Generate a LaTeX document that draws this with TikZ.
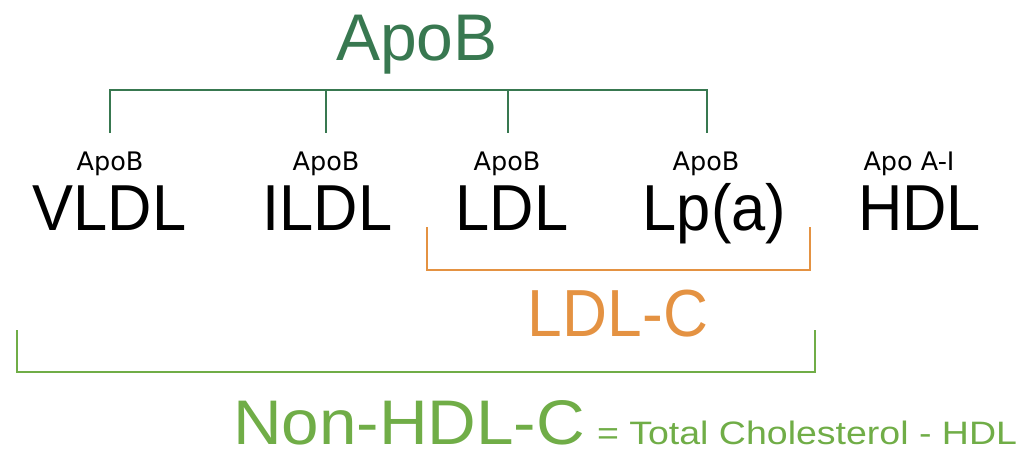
\documentclass[tikz,border=0pt]{standalone}
\usepackage{fontspec}
\usepackage{graphicx}
\setmainfont{Liberation Sans}
\newfontfamily\dejavu{DejaVu Sans}
\definecolor{apogreen}{RGB}{56,120,80}
\definecolor{ldlorange}{RGB}{228,146,66}
\definecolor{nhgreen}{RGB}{112,173,71}
\tikzset{
  lbl/.style={anchor=base,inner sep=0pt,outer sep=0pt},
  small/.style={lbl,font=\dejavu\fontsize{25.5}{27}\selectfont},
  big/.style={lbl,font=\fontsize{65}{70}\selectfont},
  treeline/.style={draw=apogreen,line width=1.6pt},
  ldlline/.style={draw=ldlorange,line width=1.6pt},
  nhline/.style={draw=nhgreen,line width=1.6pt}
}
\begin{document}
\begin{tikzpicture}[x=1pt,y=-1pt]
\useasboundingbox (0,0) rectangle (1024,452);
% top label
\node[lbl,text=apogreen,font=\fontsize{66}{70}\selectfont] (top) at (417,60) {ApoB};
% small labels
\node[small] (s1) at (110,170) {ApoB};
\node[small] (s2) at (326,170) {ApoB};
\node[small] (s3) at (507,170) {ApoB};
\node[small] (s4) at (706,170) {ApoB};
\node[small] (s5) at (909,170) {Apo A-I};
% big labels
\node[big] (v) at (109.5,230) {\scalebox{0.945}[1]{VLDL}};
\node[big] (i) at (327.5,230) {\scalebox{0.945}[1]{ILDL}};
\node[big] (l) at (512,230) {\scalebox{0.945}[1]{LDL}};
\node[big] (lp) at (714.5,230) {\scalebox{0.945}[1]{Lp(a)}};
\node[big] (h) at (919.5,230) {\scalebox{0.945}[1]{HDL}};
% tree coordinates
\coordinate (h1) at (110,90);
\coordinate (h2) at (326,90);
\coordinate (h3) at (508,90);
\coordinate (h4) at (707,90);
\coordinate (b1) at (110,133);
\coordinate (b2) at (326,133);
\coordinate (b3) at (508,133);
\coordinate (b4) at (707,133);
\draw[treeline] (b1) -- (h1) -- (h4) -- (b4);
\draw[treeline] (h2) -- (b2);
\draw[treeline] (h3) -- (b3);
% LDL-C bracket
\coordinate (o1) at (427,227);
\coordinate (o2) at (427,270);
\coordinate (o3) at (810,270);
\coordinate (o4) at (810,227);
\draw[ldlline] (o1) -- (o2) -- (o3) -- (o4);
\node[lbl,text=ldlorange] (ldlc) at (618,336) {\resizebox{180pt}{46.5pt}{LDL-C}};
% Non-HDL-C bracket
\coordinate (g1) at (17,330);
\coordinate (g2) at (17,372);
\coordinate (g3) at (815,372);
\coordinate (g4) at (815,330);
\draw[nhline] (g1) -- (g2) -- (g3) -- (g4);
\node[lbl,anchor=base west,text=nhgreen] (nh) at (233,444.5) {\resizebox{352pt}{44pt}{Non-HDL-C}};
\node[lbl,anchor=base west,text=nhgreen] (eq) at (597,444.5) {\resizebox{420pt}{23.5pt}{= Total Cholesterol - HDL}};
\end{tikzpicture}
\end{document}
